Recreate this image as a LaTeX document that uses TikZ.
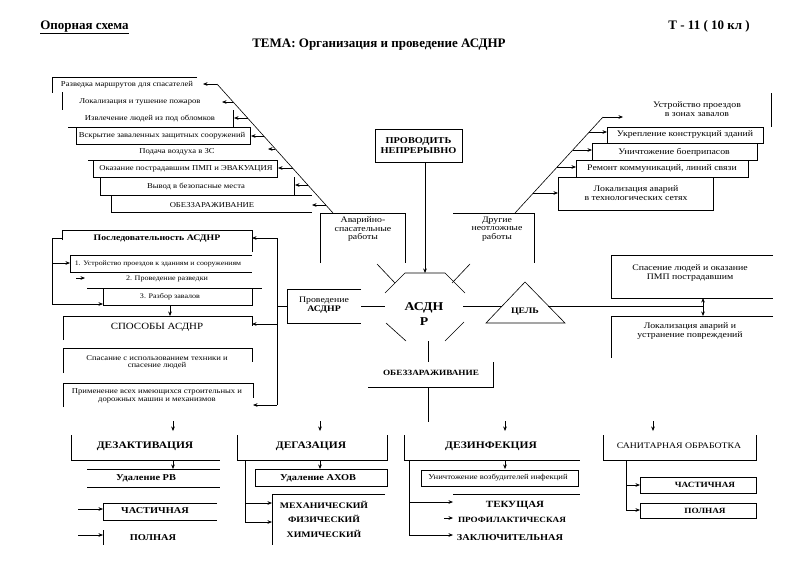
\documentclass[tikz,border=0pt]{standalone}
\usepackage{fontspec}
\setmainfont{Liberation Serif}
\newfontfamily\wide{Liberation Serif}[FakeStretch=1.15]
\usetikzlibrary{arrows.meta,calc}
\begin{document}
\begin{tikzpicture}[x=1pt,y=-1pt,line width=0.6pt,
  arr/.style={-{Stealth[length=4.5pt,width=3.6pt]}},
  txt/.style={inner sep=0pt,align=center,font=\wide\fontsize{#1}{#1}\selectfont},
  txb/.style={inner sep=0pt,align=center,font=\wide\bfseries\fontsize{#1}{#1}\selectfont},
  hdr/.style={inner sep=0pt,font=\bfseries\fontsize{13}{14}\selectfont},
]
\useasboundingbox (0,0) rectangle (800,565);
% header
\node[hdr,anchor=base west] (hdrL) at (40,29) {\underline{Опорная схема}};
\node[hdr,anchor=base east] (hdrR) at (750,29) {Т - 11 ( 10 кл )};
\node[hdr,anchor=base] (title) at (379,47) {ТЕМА: Организация и проведение АСДНР};

% ---------- left upper list
\node[txt=7.5] (l1) at (127,85) {Разведка маршрутов для спасателей};
\node[txt=7.5] (l2) at (140,102) {Локализация и тушение пожаров};
\node[txt=7.5] (l3) at (150,119) {Извлечение людей из под обломков};
\node[txt=7.5] (l4) at (162,136) {Вскрытие заваленных защитных сооружений};
\node[txt=7.5] (l5) at (177,152) {Подача воздуха в ЗС};
\node[txt=7.5] (l6) at (186,169) {Оказание пострадавшим ПМП и ЭВАКУАЦИЯ};
\node[txt=7.5] (l7) at (196,187) {Вывод в безопасные места};
\node[txt=7.5] (l8) at (212,205) {ОБЕЗЗАРАЖИВАНИЕ};
\draw (197,77) -- (52,77) -- (52,93);
\draw (62,92) -- (62,110);
\draw (233,110) -- (233,127);
\draw (68,127) -- (250,127) -- (250,144) -- (76,144) -- (76,127);
\draw (88,160) -- (277,160) -- (277,177) -- (93,177) -- (93,160);
\draw (100,177) -- (100,195) -- (312,195);
\draw (294,177) -- (294,195);
\draw (111,195) -- (111,212) -- (312,212);
\coordinate (dA) at (217,84);
\coordinate (dB) at (333,213);
\draw (dA) -- (dB);
\foreach \yy/\tip in {84/203,102/222,118/234,136/251,149/268,168/278,185/295,205/312}
  \draw[arr] ({217+0.899*(\yy-84)},\yy) -- (\tip,\yy);

% Аварийно-спасательные работы
\draw (320,263) -- (320,213) -- (405,213) -- (405,263);
\node[txt=8.5] (avar) at (363,229) {Аварийно-\\спасательные\\работы};

% ПРОВОДИТЬ НЕПРЕРЫВНО
\node[draw,minimum width=87,minimum height=33,txb=9] (prov) at (418.5,145.5) {ПРОВОДИТЬ\\[1pt]НЕПРЕРЫВНО};
\coordinate (octTop) at (425,273);
\draw[arr] (425,162) -- (octTop);

% Другие неотложные работы
\draw (453,213) -- (534,213) -- (534,263);
\node[txt=8.5] (drug) at (497,229) {Другие\\неотложные\\работы};

% right upper list
\coordinate (rA) at (515,213);
\coordinate (rB) at (603,117);
\draw (rA) -- (rB);
\draw[arr] (rB) -- (623,117);
\node[txt=8.5] (r1) at (697,109) {Устройство проездов\\в зонах завалов};
\draw (771,93) -- (771,127);
\draw (558,177) rectangle (713,210);
\draw (576,160) rectangle (748,177);
\draw (592,143) rectangle (757,160);
\draw (607,127) rectangle (763,143);
\node[txt=8.5] (r2) at (685,135) {Укрепление конструкций зданий};
\node[txt=8.5] (r3) at (674,152) {Уничтожение боеприпасов};
\node[txt=8.5] (r4) at (662,169) {Ремонт коммуникаций, линий связи};
\node[txt=8.5] (r5) at (636,193) {Локализация аварий\\в технологических сетях};
\foreach \yy/\tip in {132/607,150/592,167/576,193/558}
  \draw[arr] ({515+0.9167*(213-\yy)},\yy) -- (\tip,\yy);

% octagon АСДНР
\draw (385,293) -- (405,273) -- (445,273) -- (465,293);
\draw (377,264) -- (395,283);
\draw (470,264) -- (452,283);
\draw (386,323) -- (406,341);
\draw (445,341) -- (464,322);
\node[txb=12,font=\wide\bfseries\fontsize{12}{15}\selectfont] (asd) at (424,314) {АСДН\\Р};

% Проведение АСДНР
\draw (361,289) -- (287,289) -- (287,323) -- (361,323);
\node[txt=8.5] (provd) at (324,305) {Проведение\\\textbf{АСДНР}};
\draw (361,306) -- (385,306);
\draw (277,306) -- (287,306);

% ЦЕЛЬ
\draw (486,323) -- (525,282) -- (565,323) -- cycle;
\node[txb=8.5] (goal) at (525,312) {ЦЕЛЬ};
\draw (463,306) -- (501.6,306);
\draw (548.4,306) -- (703,306);
\coordinate (jR) at (703,306);
\draw[arr] (jR) -- (703,298);
\draw[arr] (jR) -- (703,316);
\draw (773,255) -- (611,255) -- (611,298) -- (773,298);
\node[txt=8.5] (sp) at (690,273) {Спасение людей и оказание\\ПМП пострадавшим};
\draw (773,316) -- (611,316) -- (611,358);
\node[txt=8.5] (lok) at (690,331) {Локализация аварий и\\устранение повреждений};

% ОБЕЗЗАРАЖИВАНИЕ (centre)
\draw (428,341) -- (428,362);
\draw (368,387) -- (493,387) -- (493,362);
\node[txb=8] (obz) at (431,373) {ОБЕЗЗАРАЖИВАНИЕ};
\draw (428,387) -- (428,422);
\foreach \xx in {173,320,505,653}
  \draw[arr] (\xx,421) -- (\xx,431);

% ---------- left middle
\draw (62,240) -- (62,230) -- (252,230) -- (252,252);
\node[txb=8.5] (posl) at (157,239) {Последовательность АСДНР};
\draw (62,238) -- (52,238) -- (52,304);
\draw[arr] (52,263) -- (70,263);
\draw[arr] (52,304) -- (103,304);
\draw (252,255) -- (70,255) -- (70,272) -- (252,272);
\node[txt=6.8] (s1) at (158,264) {1. Устройство проездов к зданиям и сооружениям};
\draw[arr] (76,278) -- (85,278);
\node[txt=7] (s2) at (167,279) {2. Проведение разведки};
\draw (87,288) -- (262,288);
\draw (103,288) -- (103,305) -- (252,305) -- (252,288);
\node[txt=7] (s3) at (170,297) {3. Разбор завалов};
\draw[arr] (170,305) -- (170,316);
\draw (63,340) -- (63,316) -- (252,316) -- (252,326);
\node[txt=9.5] (spos) at (157,327) {СПОСОБЫ АСДНР};
\draw (63,373) -- (63,348) -- (252,348) -- (252,362);
\node[txt=7.5] (m1) at (157,362) {Спасание с использованием техники и\\спасение людей};
\draw (63,407) -- (63,383) -- (253,383) -- (253,398);
\node[txt=7.5] (m2) at (157,396) {Применение всех имеющихся строительных и\\дорожных машин и механизмов};
\draw (277,238) -- (277,405);
\draw[arr] (277,238) -- (252,238);
\draw[arr] (277,324) -- (252,324);
\draw[arr] (277,405) -- (253,405);

% ---------- ДЕЗАКТИВАЦИЯ
\draw (71,435) -- (71,460) -- (220,460);
\node[txb=10] (dzk) at (145,446) {ДЕЗАКТИВАЦИЯ};
\draw[arr] (173,460) -- (173,469);
\draw (87,469) -- (220,469);
\draw (87,487) -- (220,487);
\node[txb=9] (rv) at (146,478) {Удаление РВ};
\draw (217,503) -- (103,503) -- (103,520) -- (217,520);
\node[txb=9] (dzk1) at (155,511) {ЧАСТИЧНАЯ};
\draw[arr] (78,509) -- (103,509);
\draw (103,530) -- (103,545);
\draw[arr] (78,535) -- (103,535);
\node[txb=9] (dzk2) at (153,538) {ПОЛНАЯ};

% ---------- ДЕГАЗАЦИЯ
\draw (237,435) -- (237,460) -- (387,460) -- (387,435);
\node[txb=10] (dgz) at (311,446) {ДЕГАЗАЦИЯ};
\draw[arr] (320,460) -- (320,469);
\draw (255,469) rectangle (387,486);
\node[txb=9] (ahov) at (318,478) {Удаление АХОВ};
\draw (245,460) -- (245,522);
\draw[arr] (245,503) -- (272,503);
\draw[arr] (245,522) -- (272,522);
\draw (385,494) -- (272,494) -- (272,545);
\node[txb=8.5] (g1) at (324,505) {МЕХАНИЧЕСКИЙ};
\node[txb=8.5] (g2) at (324,519) {ФИЗИЧЕСКИЙ};
\node[txb=8.5] (g3) at (324,534) {ХИМИЧЕСКИЙ};

% ---------- ДЕЗИНФЕКЦИЯ
\draw (404,435) -- (404,460) -- (580,460);
\node[txb=10] (dzf) at (491,446) {ДЕЗИНФЕКЦИЯ};
\draw[arr] (505,460) -- (505,469);
\draw (421,470) rectangle (578,486);
\node[txt=7.5] (vozb) at (498,478) {Уничтожение возбудителей инфекций};
\draw (453,494) -- (580,494);
\draw (409,460) -- (409,535);
\draw[arr] (409,502) -- (453,502);
\draw[arr] (409,535) -- (453,535);
\draw[arr] (444,518) -- (453,518);
\node[txb=9.5] (f1) at (515,505) {ТЕКУЩАЯ};
\node[txb=8] (f2) at (512,520) {ПРОФИЛАКТИЧЕСКАЯ};
\node[txb=9] (f3) at (510,538) {ЗАКЛЮЧИТЕЛЬНАЯ};

% ---------- САНИТАРНАЯ ОБРАБОТКА
\draw (603,435) -- (603,460) -- (756,460) -- (756,435);
\node[txt=8.5] (san) at (679,446) {САНИТАРНАЯ ОБРАБОТКА};
\draw (626,460) -- (626,510);
\draw[arr] (626,485) -- (640,485);
\draw[arr] (626,510) -- (640,510);
\draw (640,477) rectangle (756,493);
\draw (640,503) rectangle (756,518);
\node[txb=8] (san1) at (705,485) {ЧАСТИЧНАЯ};
\node[txb=8] (san2) at (705,511) {ПОЛНАЯ};
\end{tikzpicture}
\end{document}
